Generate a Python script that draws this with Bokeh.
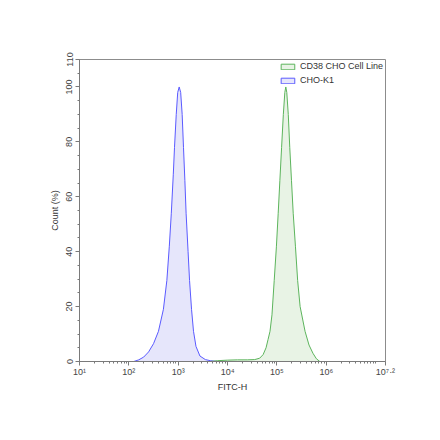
from bokeh.plotting import figure
from bokeh.models import Range1d, FixedTicker, Legend, LegendItem
from bokeh.embed import file_html
from bokeh.resources import INLINE

# ---- data (x as log10 exponent of FITC-H, y as Count %) ----
cho_k1_exp = [2.10, 2.20, 2.30, 2.40, 2.50, 2.60, 2.70, 2.77, 2.82, 2.86, 2.90, 2.925, 2.96, 2.99,
              3.02, 3.05, 3.08, 3.107, 3.135, 3.16, 3.20, 3.23, 3.27, 3.31, 3.36, 3.44, 3.55, 3.65, 3.80]
cho_k1_cnt = [0.0, 0.6, 1.6, 3.5, 6.5, 11.0, 19.0, 29.5, 42.0, 54.0, 68.0, 78.0, 90.0, 98.0,
              100.0, 98.0, 90.0, 78.0, 66.0, 54.0, 40.0, 29.5, 19.0, 11.0, 5.5, 2.0, 0.7, 0.3, 0.0]

cd38_exp = [3.65, 3.80, 4.00, 4.20, 4.40, 4.55, 4.65, 4.72, 4.78, 4.82, 4.86, 4.90, 4.945, 4.99,
            5.026, 5.06, 5.095, 5.13, 5.16, 5.18, 5.20, 5.23, 5.26, 5.295, 5.33, 5.375, 5.42,
            5.47, 5.57, 5.65, 5.73, 5.80, 5.87]
cd38_cnt = [0.0, 0.3, 0.5, 0.6, 0.6, 0.7, 1.2, 2.5, 5.0, 8.0, 11.0, 17.0, 29.5, 42.0,
            54.0, 66.0, 78.0, 90.0, 98.0, 100.0, 98.0, 90.0, 78.0, 66.0, 54.0, 42.0, 29.5,
            20.0, 11.0, 6.0, 3.0, 1.0, 0.0]

x_tick_exp = [1, 2, 3, 4, 5, 6, 7.2]
x_tick_labels = ["10¹", "10²", "10³", "10⁴", "10⁵", "10⁶", "10⁷·²"]
y_ticks = [0, 20, 40, 60, 80, 100, 110]
series_names = ["CD38 CHO Cell Line", "CHO-K1"]

FONT = "Liberation Sans"

p = figure(width=432, height=432, x_axis_type="log", output_backend="svg",
           toolbar_location=None, x_range=Range1d(10**1, 10**7.2), y_range=Range1d(0, 110))
p.min_border_left = 79
p.min_border_right = 47
p.min_border_top = 59
p.min_border_bottom = 71
p.xgrid.visible = False
p.ygrid.visible = False
p.outline_line_color = "#8c8c8c"
p.background_fill_color = "white"
p.border_fill_color = "white"

def xs(exps):
    return [10 ** e for e in exps]

blue = p.patch(xs(cho_k1_exp), cho_k1_cnt, fill_color="#e6e6fb", line_color="#5a5aff", line_width=1)
green = p.patch(xs(cd38_exp), cd38_cnt, fill_color="#e8f3e5", line_color="#5cb45c", line_width=1)

# x axis
xt = [10 ** e for e in x_tick_exp]
minor = []
for d in range(1, 7):
    for m in range(2, 10):
        minor.append(m * 10 ** d)
minor.append(10 ** 7)
p.xaxis.ticker = FixedTicker(ticks=xt, minor_ticks=minor)
p.xaxis.major_label_overrides = {v: s for v, s in zip(xt, x_tick_labels)}
p.xaxis.axis_label = "FITC-H"

# y axis
p.yaxis.ticker = FixedTicker(ticks=y_ticks, minor_ticks=list(range(0, 111, 5)))
p.yaxis.major_label_orientation = "vertical"
p.yaxis.axis_label = "Count (%)"

for ax in (p.xaxis[0], p.yaxis[0]):
    ax.axis_line_color = "#7a7a7a"
    ax.major_tick_line_color = "#7a7a7a"
    ax.minor_tick_line_color = "#7a7a7a"
    ax.major_tick_in = 0
    ax.major_tick_out = 4
    ax.minor_tick_in = 0
    ax.minor_tick_out = 2
    ax.major_label_text_font = FONT
    ax.major_label_text_font_size = "9px"
    ax.major_label_text_color = "#444444"
    ax.axis_label_text_font = FONT
    ax.axis_label_text_font_size = "9px"
    ax.axis_label_text_font_style = "normal"
    ax.axis_label_text_color = "#333333"

p.xaxis.major_label_standoff = 1
p.yaxis.major_label_standoff = 3
p.xaxis.axis_label_standoff = 2
p.yaxis.axis_label_standoff = 4

legend = Legend(items=[LegendItem(label=series_names[0], renderers=[green]),
                       LegendItem(label=series_names[1], renderers=[blue])],
                location="top_right")
legend.border_line_alpha = 0
legend.background_fill_alpha = 0
legend.label_text_font = FONT
legend.label_text_font_size = "9px"
legend.label_text_color = "#333333"
legend.glyph_width = 17
legend.glyph_height = 7
legend.label_height = 8
legend.spacing = 4
legend.padding = 2
legend.margin = 0
legend.label_standoff = 4
p.add_layout(legend)

open("out.html", "w").write(file_html(p, INLINE))
